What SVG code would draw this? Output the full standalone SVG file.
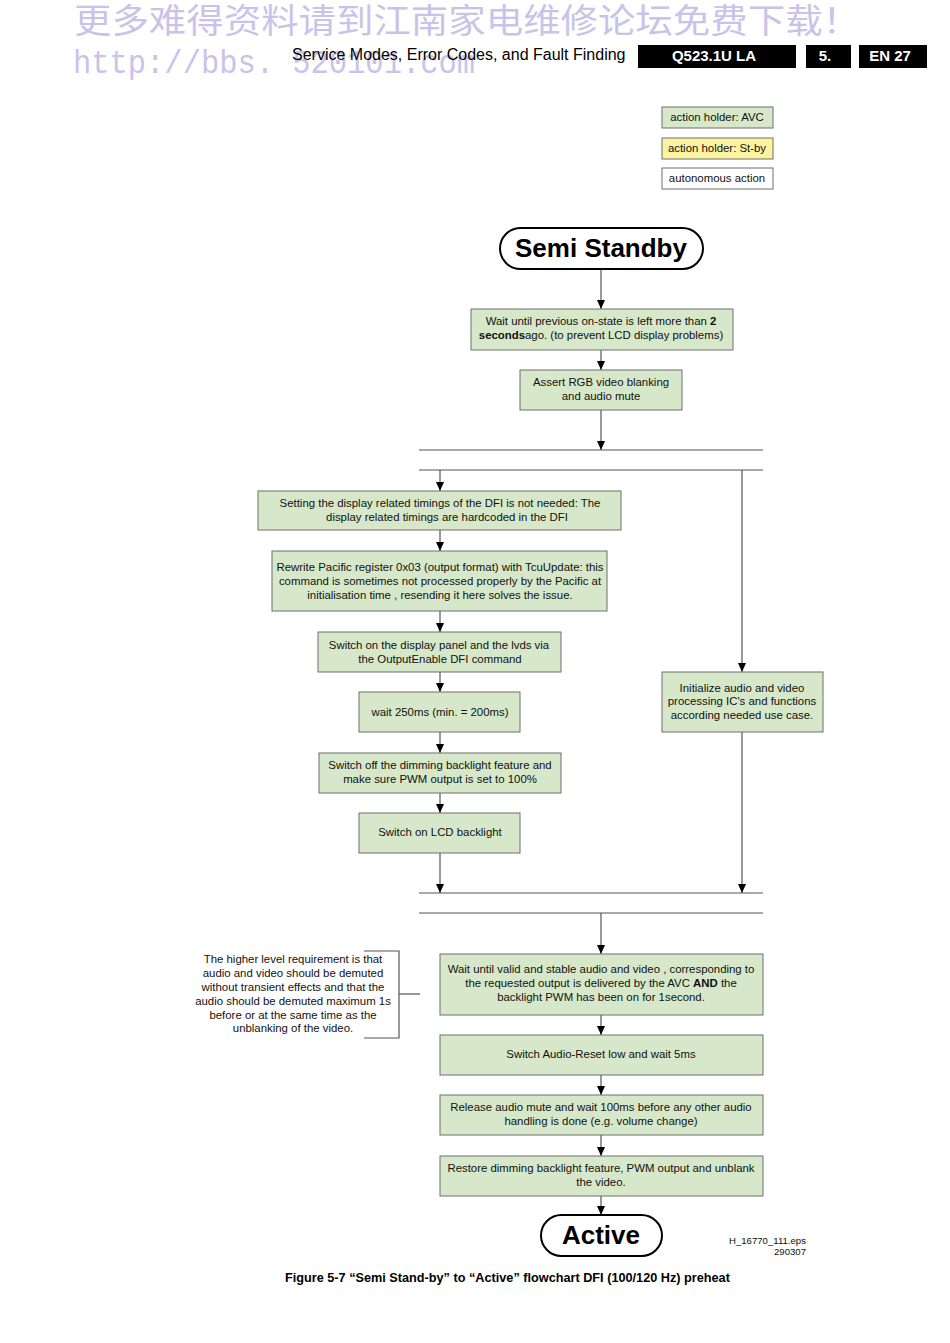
<svg xmlns="http://www.w3.org/2000/svg" width="950" height="1343" viewBox="0 0 950 1343">
<defs>
<marker id="ah" markerWidth="9" markerHeight="8" refX="9" refY="4" orient="auto" markerUnits="userSpaceOnUse" viewBox="0 0 9 8">
<path d="M0,0 L9,4 L0,8 Z" fill="#000"/>
</marker>
</defs>
<style>
.wm{font-family:"Noto Sans CJK SC",sans-serif;fill:#c9c3ea;font-size:34px}
.wu{font-family:"Liberation Mono",monospace;fill:#c9c3ea;font-size:33px}
.hd{font-family:"Liberation Sans",Arial,sans-serif;font-size:16px;fill:#000}
.hb{font-family:"Liberation Sans",Arial,sans-serif;font-size:15px;font-weight:bold;fill:#fff}
.g{fill:#d6e8c9;stroke:#6f6f6f;stroke-width:1}
.y{fill:#fbf3a0;stroke:#6f6f6f;stroke-width:1}
.w{fill:#fff;stroke:#6f6f6f;stroke-width:1}
.t{font-family:"Liberation Sans",Arial,sans-serif;font-size:11.4px;fill:#111;text-anchor:middle}
.term{fill:#fff;stroke:#000;stroke-width:2}
.tt{font-family:"Liberation Sans",Arial,sans-serif;font-size:26px;font-weight:bold;fill:#000;text-anchor:middle}
.c{stroke:#555;stroke-width:1.2;fill:none}
.ca{stroke:#555;stroke-width:1.2;fill:none;marker-end:url(#ah)}
.sm{font-family:"Liberation Sans",Arial,sans-serif;font-size:9.6px;fill:#111;text-anchor:end}
.cap{font-family:"Liberation Sans",Arial,sans-serif;font-size:12.7px;font-weight:bold;fill:#000}
</style>
<rect width="950" height="1343" fill="#fff"/>
<g id="watermark">
<text class="wm" x="74" y="33" textLength="786" lengthAdjust="spacingAndGlyphs">更多难得资料请到江南家电维修论坛免费下载！</text>
<text class="wu" x="73" y="73" textLength="402" lengthAdjust="spacingAndGlyphs">http://bbs. 520101.com</text>
</g>
<g id="header">
<text class="hd" x="292" y="60">Service Modes, Error Codes, and Fault Finding</text>
<rect x="638" y="45" width="158" height="23" fill="#000"/>
<text class="hb" x="714" y="61" text-anchor="middle">Q523.1U LA</text>
<rect x="806" y="45" width="45" height="23" fill="#000"/>
<text class="hb" x="825" y="61" text-anchor="middle">5.</text>
<rect x="859" y="45" width="68" height="23" fill="#000"/>
<text class="hb" x="890" y="61" text-anchor="middle">EN 27</text>
</g>
<g id="legend-avc"><rect class="g" x="662" y="107" width="111" height="21"/><text class="t" x="717" y="121">action holder: AVC</text></g>
<g id="legend-stby"><rect class="y" x="662" y="138" width="111" height="21"/><text class="t" x="717" y="152">action holder: St-by</text></g>
<g id="legend-auto"><rect class="w" x="662" y="168" width="111" height="21"/><text class="t" x="717" y="182">autonomous action</text></g>

<g id="connectors">
<line class="ca" x1="601" y1="270" x2="601" y2="309"/>
<line class="ca" x1="601" y1="350" x2="601" y2="370"/>
<line class="ca" x1="601" y1="410" x2="601" y2="450"/>
<line class="c" x1="419" y1="450" x2="763" y2="450"/>
<line class="c" x1="419" y1="470" x2="763" y2="470"/>
<line class="ca" x1="440" y1="470" x2="440" y2="491"/>
<line class="ca" x1="742" y1="470" x2="742" y2="672"/>
<line class="ca" x1="440" y1="530" x2="440" y2="551"/>
<line class="ca" x1="440" y1="611" x2="440" y2="632"/>
<line class="ca" x1="440" y1="672" x2="440" y2="692"/>
<line class="ca" x1="440" y1="732" x2="440" y2="753"/>
<line class="ca" x1="440" y1="793" x2="440" y2="813"/>
<line class="ca" x1="440" y1="853" x2="440" y2="893"/>
<line class="ca" x1="742" y1="732" x2="742" y2="893"/>
<line class="c" x1="419" y1="893" x2="763" y2="893"/>
<line class="c" x1="419" y1="913" x2="763" y2="913"/>
<line class="ca" x1="601" y1="913" x2="601" y2="954"/>
<line class="ca" x1="601" y1="1015" x2="601" y2="1035"/>
<line class="ca" x1="601" y1="1075" x2="601" y2="1095"/>
<line class="ca" x1="601" y1="1135" x2="601" y2="1156"/>
<line class="ca" x1="601" y1="1196" x2="601" y2="1215"/>
<polyline class="c" points="364,951 399,951 399,1038 364,1038"/>
<line class="c" x1="399" y1="994" x2="420" y2="994"/>
</g>

<g id="semi-standby"><rect class="term" x="500" y="228" width="203" height="41" rx="20.5"/><text class="tt" x="601" y="257">Semi Standby</text></g>
<g id="wait-prev"><rect class="g" x="471" y="309" width="262" height="41"/>
<text class="t" x="601" y="325">Wait until previous on-state is left more than <tspan font-weight="bold">2</tspan></text>
<text class="t" x="601" y="339"><tspan font-weight="bold">seconds</tspan>ago. (to prevent LCD display problems)</text></g>
<g id="assert-rgb"><rect class="g" x="520" y="370" width="162" height="40"/>
<text class="t" x="601" y="386">Assert RGB video blanking</text><text class="t" x="601" y="400">and audio mute</text></g>
<g id="timings"><rect class="g" x="258" y="491" width="363" height="39"/>
<text class="t" x="440" y="507">Setting the display related timings of the DFI is not needed: The</text>
<text class="t" x="447" y="521">display related timings are hardcoded in the DFI</text></g>
<g id="rewrite"><rect class="g" x="272" y="551" width="335" height="60"/>
<text class="t" x="440" y="571">Rewrite Pacific register 0x03 (output format) with TcuUpdate: this</text>
<text class="t" x="440" y="585">command is sometimes not processed properly by the Pacific at</text>
<text class="t" x="440" y="599">initialisation time , resending it here solves the issue.</text></g>
<g id="switch-panel"><rect class="g" x="318" y="632" width="243" height="40"/>
<text class="t" x="439" y="649">Switch on the display panel and the lvds via</text>
<text class="t" x="440" y="663">the OutputEnable DFI command</text></g>
<g id="wait-250"><rect class="g" x="359" y="692" width="161" height="40"/>
<text class="t" x="440" y="716">wait 250ms (min. = 200ms)</text></g>
<g id="switch-off-dim"><rect class="g" x="319" y="753" width="242" height="40"/>
<text class="t" x="440" y="769">Switch off the dimming backlight feature and</text>
<text class="t" x="440" y="783">make sure PWM output is set to 100%</text></g>
<g id="lcd-backlight"><rect class="g" x="359" y="813" width="161" height="40"/>
<text class="t" x="440" y="836">Switch on LCD backlight</text></g>
<g id="init-av"><rect class="g" x="662" y="672" width="161" height="60"/>
<text class="t" x="742" y="692">Initialize audio and video</text>
<text class="t" x="742" y="705">processing IC's and functions</text>
<text class="t" x="742" y="719">according needed use case.</text></g>
<g id="wait-valid"><rect class="g" x="440" y="954" width="323" height="61"/>
<text class="t" x="601" y="973">Wait until valid and stable audio and video , corresponding to</text>
<text class="t" x="601" y="987">the requested output is delivered by the AVC <tspan font-weight="bold">AND</tspan> the</text>
<text class="t" x="601" y="1001">backlight PWM has been on for 1second.</text></g>
<g id="audio-reset"><rect class="g" x="440" y="1035" width="323" height="40"/>
<text class="t" x="601" y="1058">Switch Audio-Reset low and wait 5ms</text></g>
<g id="release-mute"><rect class="g" x="440" y="1095" width="323" height="40"/>
<text class="t" x="601" y="1111">Release audio mute and wait 100ms before any other audio</text>
<text class="t" x="601" y="1125">handling is done (e.g. volume change)</text></g>
<g id="restore"><rect class="g" x="440" y="1156" width="323" height="40"/>
<text class="t" x="601" y="1172">Restore dimming backlight feature, PWM output and unblank</text>
<text class="t" x="601" y="1186">the video.</text></g>
<g id="active"><rect class="term" x="541" y="1215" width="121" height="41" rx="20.5"/><text class="tt" x="601" y="1244">Active</text></g>
<g id="note">
<text class="t" x="293" y="963">The higher level requirement is that</text>
<text class="t" x="293" y="977">audio and video should be demuted</text>
<text class="t" x="293" y="991">without transient effects and that the</text>
<text class="t" x="293" y="1005">audio should be demuted maximum 1s</text>
<text class="t" x="293" y="1019">before or at the same time as the</text>
<text class="t" x="293" y="1032">unblanking of the video.</text>
</g>
<g id="footer">
<text class="sm" x="806" y="1244">H_16770_111.eps</text>
<text class="sm" x="806" y="1255">290307</text>
<text class="cap" x="285" y="1282">Figure 5-7 “Semi Stand-by” to “Active” flowchart DFI (100/120 Hz) preheat</text>
</g>
</svg>
